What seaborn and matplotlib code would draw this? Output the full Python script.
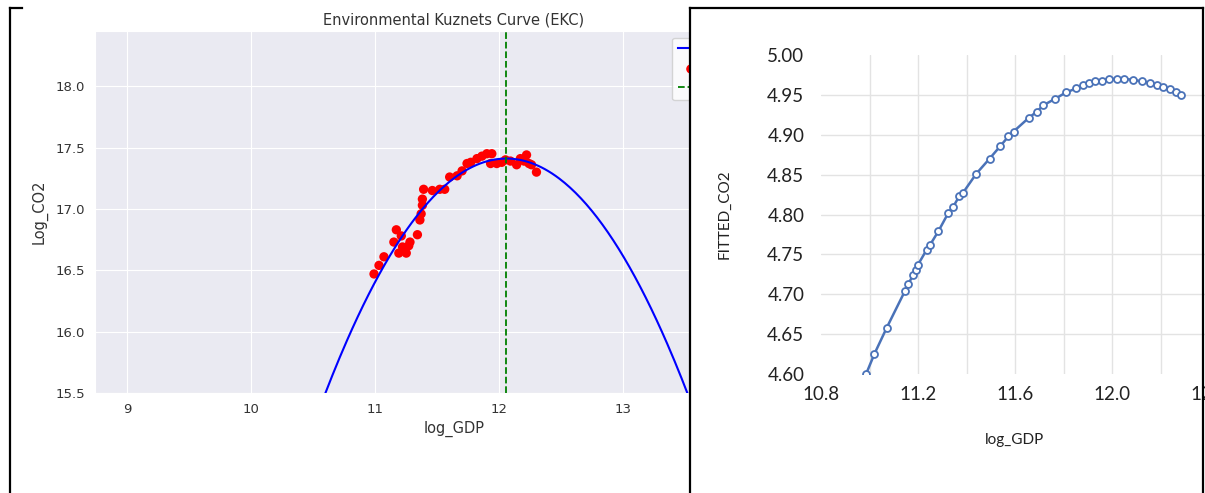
import numpy as np
import pandas as pd
import matplotlib
matplotlib.use("Agg")
import matplotlib.pyplot as plt
from matplotlib.lines import Line2D
from matplotlib.patches import Rectangle
from matplotlib.ticker import MultipleLocator, FormatStrFormatter, FixedLocator
import seaborn as sns

# ---------------- data ----------------
# Left panel: observed log GDP vs log CO2
obs_log_gdp = [10.99, 11.03, 11.07, 11.15, 11.17, 11.19, 11.21, 11.22, 11.25, 11.27,
               11.28, 11.34, 11.36, 11.37, 11.38, 11.38, 11.39, 11.46, 11.52, 11.56,
               11.60, 11.66, 11.70, 11.74, 11.77, 11.82, 11.86, 11.90, 11.94, 11.93,
               11.98, 12.02, 12.05, 12.09, 12.14, 12.17, 12.20, 12.22, 12.24, 12.26,
               12.30]
obs_log_co2 = [16.47, 16.54, 16.61, 16.73, 16.83, 16.64, 16.78, 16.69, 16.64, 16.70,
               16.73, 16.79, 16.91, 16.96, 17.03, 17.08, 17.16, 17.15, 17.16, 17.16,
               17.26, 17.27, 17.31, 17.37, 17.38, 17.41, 17.43, 17.45, 17.45, 17.37,
               17.37, 17.38, 17.40, 17.39, 17.36, 17.41, 17.39, 17.44, 17.37, 17.36,
               17.30]

# Right panel: fitted CO2 vs log GDP
fit_log_gdp = [10.986, 11.02, 11.071, 11.146, 11.16, 11.18, 11.19, 11.20, 11.236, 11.25,
               11.284, 11.325, 11.346, 11.37, 11.385, 11.44, 11.495, 11.54, 11.573, 11.594,
               11.656, 11.69, 11.717, 11.765, 11.81, 11.852, 11.882, 11.907, 11.93, 11.958,
               11.989, 12.02, 12.05, 12.085, 12.122, 12.157, 12.184, 12.21, 12.24, 12.265,
               12.283]
fitted_co2 = [4.600, 4.625, 4.658, 4.704, 4.713, 4.724, 4.731, 4.737, 4.756, 4.762,
              4.779, 4.802, 4.810, 4.823, 4.827, 4.851, 4.870, 4.886, 4.898, 4.904,
              4.921, 4.929, 4.937, 4.945, 4.953, 4.958, 4.962, 4.965, 4.967, 4.968,
              4.970, 4.970, 4.970, 4.969, 4.967, 4.965, 4.963, 4.960, 4.957, 4.953,
              4.950]

left_xticks = [9, 10, 11, 12, 13]
left_yticks = [15.5, 16.0, 16.5, 17.0, 17.5, 18.0]
right_xticks = [10.8, 11.2, 11.6, 12.0, 12.4]
right_yticks = [4.60, 4.65, 4.70, 4.75, 4.80, 4.85, 4.90, 4.95, 5.00]

# ---------------- figure ----------------
W, H = 1205, 493
fig = plt.figure(figsize=(W / 100, H / 100), dpi=100)
fig.patch.set_facecolor("white")

def fx(px):
    return px / W

def fy(py):
    return 1 - py / H

# ---------- left panel ----------
with sns.axes_style("darkgrid"):
    axL = fig.add_axes([fx(95), fy(393), fx(813) - fx(95), fy(31) - fy(393)])
axL.set_zorder(0)

df_obs = pd.DataFrame({"log_GDP": obs_log_gdp, "Log_CO2": obs_log_co2})
coef = np.polyfit(df_obs["log_GDP"], df_obs["Log_CO2"], 2)
turning = -coef[1] / (2 * coef[0])

xlimL = (8.74, 14.53)
grid = np.linspace(xlimL[0], xlimL[1], 400)
df_curve = pd.DataFrame({"log_GDP": grid, "Log_CO2": np.polyval(coef, grid)})

sns.lineplot(data=df_curve, x="log_GDP", y="Log_CO2", ax=axL, color="blue",
             linewidth=1.5, label="Quadratic Fit", zorder=3)
sns.scatterplot(data=df_obs, x="log_GDP", y="Log_CO2", ax=axL, color="red",
                s=45, edgecolor="none", label="Actual Data", zorder=2)
axL.axvline(turning, color="green", linestyle="--", linewidth=1.3, label="Turning Point", zorder=4)

axL.set_xlim(*xlimL)
axL.set_ylim(15.5, 18.45)
axL.set_xticks(left_xticks)
axL.set_yticks(left_yticks)
axL.set_yticklabels([f"{v:.1f}" for v in left_yticks])
axL.tick_params(labelsize=9.5, colors="#333333")
axL.set_xlabel("log_GDP", fontsize=10.5, color="#333333", labelpad=4)
axL.set_ylabel("Log_CO2", fontsize=10.5, color="#333333", labelpad=6)
axL.set_title("Environmental Kuznets Curve (EKC)", fontsize=10.5, color="#333333", pad=5)
axL.legend(loc="upper right", fontsize=9.5, frameon=True)

# white cover hiding the part of the left chart beyond the divider
fig.add_artist(Rectangle((fx(690), 0), 1 - fx(690), 1, transform=fig.transFigure,
                         facecolor="white", edgecolor="none", zorder=1))

# ---------- right panel ----------
with sns.axes_style("white"):
    axR = fig.add_axes([fx(821), fy(374), fx(821 + 1.8 * 242.5) - fx(821), fy(55) - fy(374)])
axR.set_zorder(2)
axR.set_facecolor("white")

df_fit = pd.DataFrame({"log_GDP": fit_log_gdp, "FITTED_CO2": fitted_co2})
sns.lineplot(data=df_fit, x="log_GDP", y="FITTED_CO2", ax=axR, color="#4a72b8",
             linewidth=1.8, marker="o", markersize=5, markerfacecolor="white",
             markeredgecolor="#4a72b8", markeredgewidth=1.3, zorder=3)

axR.set_xlim(10.8, 12.6)
axR.set_ylim(4.60, 5.00)
axR.xaxis.set_major_locator(FixedLocator(right_xticks))
axR.xaxis.set_minor_locator(MultipleLocator(0.2))
axR.xaxis.set_major_formatter(FormatStrFormatter("%.1f"))
axR.yaxis.set_major_locator(FixedLocator(right_yticks))
axR.yaxis.set_major_formatter(FormatStrFormatter("%.2f"))
axR.grid(True, which="both", axis="x", color="#e3e3e3", linewidth=1)
axR.grid(True, which="major", axis="y", color="#e3e3e3", linewidth=1)
for s in axR.spines.values():
    s.set_visible(False)
axR.tick_params(axis="both", which="both", length=0, labelsize=13.5, colors="#222222")
axR.tick_params(axis="x", pad=9)
axR.tick_params(axis="y", pad=12)
for lab in axR.get_xticklabels() + axR.get_yticklabels():
    lab.set_family(["Lato", "DejaVu Sans"])
axR.set_xlabel("log_GDP", fontsize=11, color="#222222", family=["Lato", "DejaVu Sans"])
axR.xaxis.set_label_coords((1014 - 821) / (1.8 * 242.5), -0.185)
axR.set_ylabel("FITTED_CO2", fontsize=11, color="#222222", family=["Lato", "DejaVu Sans"])
axR.yaxis.set_label_coords(-(821 - 732) / (1.8 * 242.5), 0.5)

fig.canvas.draw()
# no gridlines on the plot-area edges (10.8, 4.60, 5.00)
for tick in axR.xaxis.get_major_ticks():
    if abs(tick.get_loc() - 10.8) < 1e-6:
        tick.gridline.set_visible(False)
for tick in axR.yaxis.get_major_ticks():
    if abs(tick.get_loc() - 4.60) < 1e-6 or abs(tick.get_loc() - 5.00) < 1e-6:
        tick.gridline.set_visible(False)

# ---------- panel borders ----------
def fline(x0, y0, x1, y1):
    fig.add_artist(Line2D([fx(x0), fx(x1)], [fy(y0), fy(y1)], transform=fig.transFigure,
                          color="black", linewidth=1.6, zorder=5))

fline(10, 8, 10, 493)
fline(10, 8, 22, 8)
fline(690, 8, 690, 493)
fline(690, 8, 1203, 8)
fline(1203, 8, 1203, 493)

fig.savefig("out.png", dpi=100)
